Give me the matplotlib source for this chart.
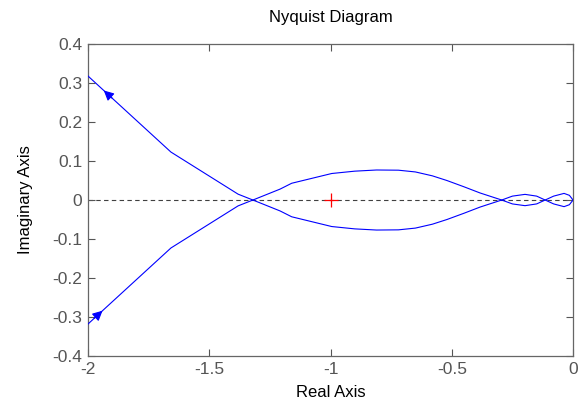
import numpy as np
import matplotlib
matplotlib.use('Agg')
import matplotlib.pyplot as plt
from matplotlib.ticker import FuncFormatter

plt.rcParams['font.family'] = ['Liberation Sans', 'DejaVu Sans']

# one branch of the Nyquist curve (the other one is its mirror image)
re = [-2.0, -1.658, -1.381, -1.32, -1.208, -1.16, -0.995, -0.90, -0.81, -0.72,
      -0.65, -0.58, -0.52, -0.45, -0.383, -0.294, -0.25, -0.198, -0.15, -0.115,
      -0.08, -0.037, -0.015, 0.0]
im = [0.318, 0.123, 0.015, 0.0, -0.028, -0.043, -0.068, -0.074, -0.077, -0.0765,
      -0.072, -0.062, -0.050, -0.034, -0.018, 0.0, 0.010, 0.0145, 0.010, 0.0,
      -0.010, -0.017, -0.012, 0.0]
xticks = [-2, -1.5, -1, -0.5, 0]
yticks = [-0.4, -0.3, -0.2, -0.1, 0, 0.1, 0.2, 0.3, 0.4]

re = np.array(re)
im = np.array(im)

fig = plt.figure(figsize=(5.8, 4.04), dpi=100)
ax = fig.add_axes([0.1517, 0.1188, 0.8363, 0.7722])

ax.axhline(0, color='#404040', lw=0.8, ls=(0, (4, 3)), zorder=1)
ax.plot(re, im, color='#0000ff', lw=0.8, zorder=3)
ax.plot(re, -im, color='#0000ff', lw=0.8, zorder=3)
ax.plot(-1, 0, marker='+', color='red', ms=10, mew=0.9, zorder=4)

# direction arrows
def arrow(x0, x1, ys):
    y0 = np.interp(x0, re, ys)
    y1 = np.interp(x1, re, ys)
    ax.annotate('', xy=(x1, y1), xytext=(x0, y0),
                arrowprops=dict(arrowstyle='-|>', color='#0000ff', lw=0.8,
                                mutation_scale=15, shrinkA=0, shrinkB=0))

arrow(-1.90, -1.935, im)
arrow(-1.975, -1.94, -im)

ax.set_xlim(-2, 0)
ax.set_ylim(-0.4, 0.4)
ax.set_xticks(xticks)
ax.set_yticks(yticks)
fmt = FuncFormatter(lambda v, p: '%g' % round(v, 2))
ax.xaxis.set_major_formatter(fmt)
ax.yaxis.set_major_formatter(fmt)
ax.tick_params(direction='in', top=True, right=True, length=5, width=0.8,
               colors='#555555', labelsize=12.5, labelcolor='#555555', pad=4)
for s in ax.spines.values():
    s.set_color('#666666')
    s.set_linewidth(0.9)

ax.set_title('Nyquist Diagram', fontsize=12, pad=16)
ax.set_xlabel('Real Axis', fontsize=12, labelpad=6)
ax.set_ylabel('Imaginary Axis', fontsize=12, labelpad=14)

fig.savefig('out.png', dpi=100)
